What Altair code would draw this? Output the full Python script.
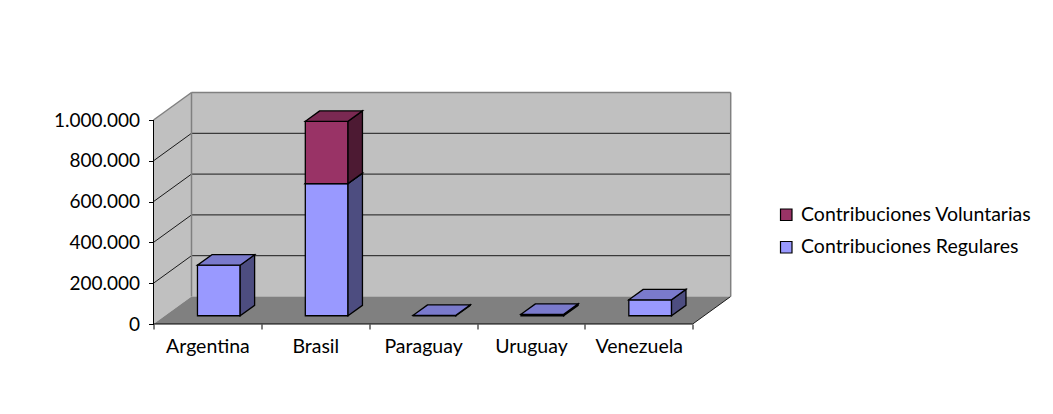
import altair as alt
import pandas as pd

# ---------------- data ----------------
categories = ["Argentina", "Brasil", "Paraguay", "Uruguay", "Venezuela"]
regulares = [248000, 648000, 2000, 7000, 78000]
voluntarias = [0, 305000, 0, 0, 0]
series_names = ["Contribuciones Voluntarias", "Contribuciones Regulares"]
y_ticks = [0, 200000, 400000, 600000, 800000, 1000000]

# ---------------- geometry / style ----------------
PXU = 107.84              # px per category unit
W, H = 582, 236
PX_PER_VAL = 204 / 1e6
XMAX = W / PXU
YMAX = H / PX_PER_VAL
DX = 38 / PXU             # depth offset in x units
DY = 27.5 / PX_PER_VAL    # depth offset in value units
F0, F1 = 0.30, 0.68       # bar front / back depth fractions
HALF = 0.198
NCAT = len(categories)
VMAX = y_ticks[-1]
FONT = "Lato"
FS = 19.5

front_col = {"Contribuciones Regulares": "#9999ff", "Contribuciones Voluntarias": "#993366"}
side_col = {"Contribuciones Regulares": "#4d4d80", "Contribuciones Voluntarias": "#4d1a33"}
top_col = {"Contribuciones Regulares": "#7a7acc", "Contribuciones Voluntarias": "#7a2952"}

label_arr = "[" + ",".join("'" + c + "'" for c in categories) + ",'']"
X_AXIS = alt.Axis(values=list(range(NCAT + 1)), domain=False, grid=False, title=None,
                  tickSize=5, tickColor="black", labelOffset=PXU / 2, labelFlush=False,
                  labelOverlap=False, labelExpr=label_arr + "[datum.value]",
                  labelFont=FONT, labelFontSize=FS, labelColor="black", labelPadding=8)
Y_AXIS = alt.Axis(values=y_ticks, domain=False, grid=False, title=None, tickSize=5,
                  tickColor="black",
                  labelExpr="replace(format(datum.value, ','), regexp(',', 'g'), '.')",
                  labelFont=FONT, labelFontSize=19, labelColor="black", labelPadding=9)
X_SCALE = alt.Scale(domain=[0, XMAX], nice=False, zero=False)
Y_SCALE = alt.Scale(domain=[0, YMAX], nice=False, zero=False)


def X(field):
    return alt.X(field, type="quantitative", scale=X_SCALE, axis=X_AXIS)


def Y(field):
    return alt.Y(field, type="quantitative", scale=Y_SCALE, axis=Y_AXIS)


def X2(field):
    return alt.X2(field)


def Y2(field):
    return alt.Y2(field)


# ---------------- frame (walls, floor) ----------------
back_wall = pd.DataFrame([{"x": DX, "x2": NCAT + DX, "y": DY, "y2": VMAX + DY}])
side_wall = pd.DataFrame([{"x": 0, "lo": 0, "hi": VMAX}, {"x": DX, "lo": DY, "hi": VMAX + DY}])
floor = pd.DataFrame([{"y": 0, "xa": 0, "xb": NCAT}, {"y": DY, "xa": DX, "xb": NCAT + DX}])

layers = []
layers.append(alt.Chart(side_wall).mark_area(color="#c0c0c0", orient="vertical").encode(
    x=X("x"), y=Y("hi"), y2=Y2("lo")))
layers.append(alt.Chart(back_wall).mark_rect(color="#c0c0c0").encode(
    x=X("x"), x2=X2("x2"), y=Y("y"), y2=Y2("y2")))
layers.append(alt.Chart(floor).mark_area(color="#808080", orient="horizontal").encode(
    y=Y("y"), x=X("xa"), x2=X2("xb")))

grid_rows = []
for v in y_ticks[1:-1]:
    grid_rows.append({"x": DX, "x2": NCAT + DX, "y": v + DY, "y2": v + DY})
    grid_rows.append({"x": 0, "x2": DX, "y": v, "y2": v + DY})
grid_rows.append({"x": NCAT, "x2": NCAT + DX, "y": 0, "y2": DY})
layers.append(alt.Chart(pd.DataFrame(grid_rows)).mark_rule(color="#1a1a1a", strokeWidth=1).encode(
    x=X("x"), x2=X2("x2"), y=Y("y"), y2=Y2("y2")))

edge_rows = [
    {"x": DX, "x2": NCAT + DX, "y": VMAX + DY, "y2": VMAX + DY},
    {"x": NCAT + DX, "x2": NCAT + DX, "y": DY, "y2": VMAX + DY},
    {"x": DX, "x2": DX, "y": DY, "y2": VMAX + DY},
    {"x": 0, "x2": DX, "y": VMAX, "y2": VMAX + DY},
]
layers.append(alt.Chart(pd.DataFrame(edge_rows)).mark_rule(color="#808080", strokeWidth=1.5).encode(
    x=X("x"), x2=X2("x2"), y=Y("y"), y2=Y2("y2")))

# ---------------- axis lines ----------------
axis_df = pd.DataFrame([{"x": 0, "x2": NCAT, "y": 0, "y2": 0}, {"x": 0, "x2": 0, "y": 0, "y2": VMAX}])
layers.append(alt.Chart(axis_df).mark_rule(color="black", strokeWidth=1).encode(
    x=X("x"), x2=X2("x2"), y=Y("y"), y2=Y2("y2")))

# ---------------- bars ----------------
color_enc = alt.Color("serie:N", scale=alt.Scale(domain=series_names,
                                                 range=[front_col[s] for s in series_names]),
                      legend=alt.Legend(title=None, orient="none", legendX=623, legendY=117,
                                        symbolType="square", symbolSize=132, symbolStrokeColor="black",
                                        symbolStrokeWidth=1.2, symbolOpacity=1, labelFont=FONT,
                                        labelFontSize=FS, labelColor="black", rowPadding=11.5,
                                        labelOffset=5, labelLimit=0))

stack_base = [0] * NCAT
for serie, values in [("Contribuciones Regulares", regulares), ("Contribuciones Voluntarias", voluntarias)]:
    fr, sd, tp = [], [], []
    for i, (cat, v) in enumerate(zip(categories, values)):
        if v <= 0:
            continue
        y0 = stack_base[i]
        y1 = y0 + v
        stack_base[i] = y1
        xl = i + 0.5 - HALF + F0 * DX
        xr = i + 0.5 + HALF + F0 * DX
        ddx = (F1 - F0) * DX
        ddy = (F1 - F0) * DY
        fr.append({"cat": cat, "serie": serie, "x": xl, "x2": xr, "y": y0 + F0 * DY, "y2": y1 + F0 * DY})
        sd.append({"cat": cat, "x": xr, "lo": y0 + F0 * DY, "hi": y1 + F0 * DY})
        sd.append({"cat": cat, "x": xr + ddx, "lo": y0 + F0 * DY + ddy, "hi": y1 + F0 * DY + ddy})
        tp.append({"cat": cat, "y": y1 + F0 * DY, "xa": xl, "xb": xr})
        tp.append({"cat": cat, "y": y1 + F0 * DY + ddy, "xa": xl + ddx, "xb": xr + ddx})
    layers.append(alt.Chart(pd.DataFrame(fr)).mark_rect(stroke="black", strokeWidth=1.3, opacity=1).encode(
        x=X("x"), x2=X2("x2"), y=Y("y"), y2=Y2("y2"), color=color_enc))
    layers.append(alt.Chart(pd.DataFrame(sd)).mark_area(
        color=side_col[serie], stroke="black", strokeWidth=1.3, orient="vertical", opacity=1).encode(
        x=X("x"), y=Y("hi"), y2=Y2("lo"), detail="cat:N"))
    layers.append(alt.Chart(pd.DataFrame(tp)).mark_area(
        color=top_col[serie], stroke="black", strokeWidth=1.3, orient="horizontal", opacity=1).encode(
        y=Y("y"), x=X("xa"), x2=X2("xb"), detail="cat:N"))

chart = alt.layer(*layers).properties(
    width=W, height=H,
    autosize=alt.AutoSizeParams(type="none"),
    padding={"left": 145.5, "top": 80, "right": 309, "bottom": 82},
    background="white",
).configure_view(stroke=None)

chart.save("out.html", embed_options={"renderer": "svg", "actions": False})
